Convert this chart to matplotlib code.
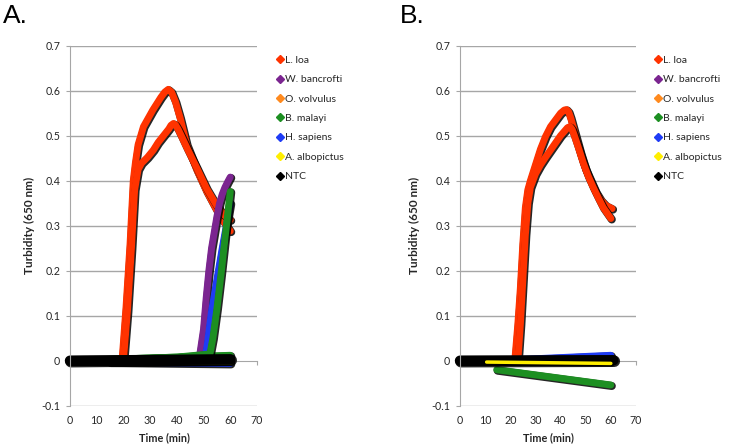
import matplotlib
matplotlib.use("Agg")
import matplotlib.pyplot as plt
import matplotlib.patheffects as pe
from matplotlib.lines import Line2D

plt.rcParams["font.family"] = ["Lato", "DejaVu Sans"]

SPECIES = ["L. loa", "W. bancrofti", "O. volvulus", "B. malayi",
           "H. sapiens", "A. albopictus", "NTC"]
COLORS = ["#ff3300", "#7b2590", "#ff8a1e", "#1d8f22",
          "#1f3cf5", "#ffee00", "#000000"]

# ---- panel A (time in min, turbidity at 650 nm) ----
a_loa1_t = [0, 10, 19.5, 21, 22.5, 23.7, 24.5, 25.5, 27.5, 31, 34, 35.5, 36.8,
            38, 39.5, 41.2, 43.7, 47.5, 51.2, 54.9, 57.5, 60]
a_loa1_v = [0, 0, 0, 0.12, 0.26, 0.40, 0.44, 0.48, 0.52, 0.557, 0.585, 0.597,
            0.603, 0.597, 0.575, 0.54, 0.48, 0.424, 0.376, 0.335, 0.31, 0.288]
a_loa2_t = [0, 10, 20, 21.5, 23, 24.2, 25.5, 26.8, 29, 31.2, 33, 35, 37, 37.8,
            38.7, 39.5, 40.5, 41.8, 44, 47.5, 51.2, 54.9, 57.5, 60]
a_loa2_v = [0, 0, 0, 0.11, 0.25, 0.38, 0.425, 0.439, 0.452, 0.468, 0.485, 0.50,
            0.515, 0.523, 0.527, 0.524, 0.514, 0.498, 0.47, 0.428, 0.382,
            0.345, 0.325, 0.313]
a_wb_t = [0, 20, 40, 48.5, 50, 51, 52, 53, 54, 55, 56, 57, 58, 59, 60]
a_wb_v = [0, 0.003, 0.007, 0.01, 0.07, 0.14, 0.2, 0.25, 0.285, 0.32, 0.35,
          0.37, 0.385, 0.397, 0.408]
a_ov_t = [0, 60]
a_ov_v = [0, 0.001]
a_bm1_t = [0, 20, 40, 52.4, 53.5, 55, 56.5, 58, 60]
a_bm1_v = [0, 0.004, 0.008, 0.015, 0.05, 0.115, 0.19, 0.27, 0.376]
a_bm2_t = [10, 60]
a_bm2_v = [0.002, 0.012]
a_hs1_t = [0, 20, 40, 50.5, 51.5, 53, 55, 57, 59, 60]
a_hs1_v = [0, -0.002, -0.001, 0.0, 0.04, 0.11, 0.18, 0.25, 0.315, 0.35]
a_hs2_t = [15, 60]
a_hs2_v = [-0.003, -0.006]
a_aa_t = [0, 60]
a_aa_v = [0, 0]
a_ntc_t = [0, 60]
a_ntc_v = [0, 0.003]

# ---- panel B ----
b_loa1_t = [0, 10, 21.8, 23, 24, 25, 26, 27, 28, 30, 32, 34, 36, 38, 40, 41.5,
            42.4, 43.2, 44, 46, 48, 50, 52, 54, 56, 58, 60.5]
b_loa1_v = [0, 0, 0, 0.08, 0.16, 0.26, 0.34, 0.38, 0.40, 0.435, 0.47, 0.498,
            0.52, 0.535, 0.55, 0.557, 0.558, 0.553, 0.54, 0.50, 0.46, 0.425,
            0.40, 0.375, 0.357, 0.345, 0.338]
b_loa2_t = [0, 10, 23, 24, 25, 26, 27, 28, 30, 32, 34, 37, 40, 42.8, 43.8,
            44.6, 45.5, 47, 49, 51, 53, 55, 57, 60]
b_loa2_v = [0, 0, 0, 0.08, 0.18, 0.28, 0.35, 0.385, 0.415, 0.435, 0.452, 0.476,
            0.5, 0.518, 0.52, 0.514, 0.5, 0.475, 0.44, 0.41, 0.385, 0.362,
            0.34, 0.316]
b_wb_t = [0, 60]
b_wb_v = [0, 0.002]
b_ov_t = [0, 60]
b_ov_v = [0, 0.001]
b_bm_t = [14.6, 60]
b_bm_v = [-0.02, -0.054]
b_hs_t = [0, 17, 60]
b_hs_v = [0, 0.001, 0.012]
b_ntc_t = [0, 61]
b_ntc_v = [0, 0.001]
b_aa_t = [10.6, 60]
b_aa_v = [-0.003, -0.006]

X_TICKS = [0, 10, 20, 30, 40, 50, 60, 70]
Y_TICKS = [-0.1, 0, 0.1, 0.2, 0.3, 0.4, 0.5, 0.6, 0.7]
Y_LABELS = ["-0.1", "0", "0.1", "0.2", "0.3", "0.4", "0.5", "0.6", "0.7"]

GRID = "#a6a6a6"
TEXT = "#262626"


def draw_line(ax, t, v, color, lw=5.0):
    ax.plot(t, v, color=color, lw=lw, solid_capstyle="round",
            solid_joinstyle="round", clip_on=False,
            path_effects=[pe.Stroke(linewidth=lw + 0.8, foreground="black",
                                    alpha=0.85, offset=(0.7, -0.7)),
                          pe.Normal()])


def style_axes(ax):
    ax.set_xlim(0, 70)
    ax.set_ylim(-0.1, 0.7)
    for y in Y_TICKS:
        if y != 0:
            ax.axhline(y, color=GRID, lw=1.0, zorder=0)
    for side in ["top", "right"]:
        ax.spines[side].set_visible(False)
    ax.spines["left"].set_color(GRID)
    ax.spines["bottom"].set_position(("data", 0))
    ax.spines["bottom"].set_color(GRID)
    ax.spines["bottom"].set_zorder(0)
    ax.set_yticks(Y_TICKS)
    ax.set_yticklabels(Y_LABELS)
    ax.set_xticks(X_TICKS)
    ax.tick_params(axis="y", length=3, color=GRID, labelsize=7.7, pad=4,
                   labelcolor=TEXT)
    ax.tick_params(axis="x", length=3, color=GRID, labelbottom=False)
    sec = ax.secondary_xaxis("bottom")
    sec.set_xticks(X_TICKS)
    sec.spines["bottom"].set_visible(False)
    sec.tick_params(length=0, labelsize=7.7, pad=7, labelcolor=TEXT)


def add_legend(ax):
    handles = [Line2D([], [], marker="D", color=c, ls="none", markersize=3.6)
               for c in COLORS]
    leg = ax.legend(handles, SPECIES, loc="upper left",
                    bbox_to_anchor=(1.085, 0.984), frameon=False,
                    fontsize=7.5, handlelength=0.6, handletextpad=0.2,
                    labelspacing=0.97, borderaxespad=0)
    for txt in leg.get_texts():
        txt.set_color(TEXT)


fig = plt.figure(figsize=(7.29, 4.48), dpi=100)
ax_a = fig.add_axes([0.096, 0.0944, 0.2565, 0.8036])
ax_b = fig.add_axes([0.631, 0.0944, 0.2414, 0.8036])

style_axes(ax_a)
draw_line(ax_a, a_loa1_t, a_loa1_v, COLORS[0])
draw_line(ax_a, a_loa2_t, a_loa2_v, COLORS[0])
draw_line(ax_a, a_wb_t, a_wb_v, COLORS[1])
draw_line(ax_a, a_ov_t, a_ov_v, COLORS[2])
draw_line(ax_a, a_hs2_t, a_hs2_v, COLORS[4])
draw_line(ax_a, a_bm2_t, a_bm2_v, COLORS[3])
draw_line(ax_a, a_hs1_t, a_hs1_v, COLORS[4])
draw_line(ax_a, a_bm1_t, a_bm1_v, COLORS[3])
draw_line(ax_a, a_aa_t, a_aa_v, COLORS[5])
draw_line(ax_a, a_ntc_t, a_ntc_v, COLORS[6], lw=7.5)
add_legend(ax_a)

style_axes(ax_b)
draw_line(ax_b, b_loa1_t, b_loa1_v, COLORS[0])
draw_line(ax_b, b_loa2_t, b_loa2_v, COLORS[0])
draw_line(ax_b, b_wb_t, b_wb_v, COLORS[1])
draw_line(ax_b, b_ov_t, b_ov_v, COLORS[2])
draw_line(ax_b, b_bm_t, b_bm_v, COLORS[3])
draw_line(ax_b, b_hs_t, b_hs_v, COLORS[4])
draw_line(ax_b, b_ntc_t, b_ntc_v, COLORS[6], lw=7.5)
draw_line(ax_b, b_aa_t, b_aa_v, COLORS[5], lw=2.5)
add_legend(ax_b)

for x, s in [(0.004, "A."), (0.549, "B.")]:
    fig.text(x, 0.949, s, fontsize=19, va="baseline",
             family=["Liberation Sans", "DejaVu Sans"])
for x in [0.041, 0.569]:
    fig.text(x, 0.496, "Turbidity (650 nm)", rotation=90, fontsize=8.5,
             fontweight="bold", ha="center", va="center", color=TEXT)
for x in [0.225, 0.753]:
    fig.text(x, 0.022, "Time (min)", fontsize=7.8, fontweight="bold",
             ha="center", va="center", color=TEXT)

fig.savefig("out.png", dpi=100)
